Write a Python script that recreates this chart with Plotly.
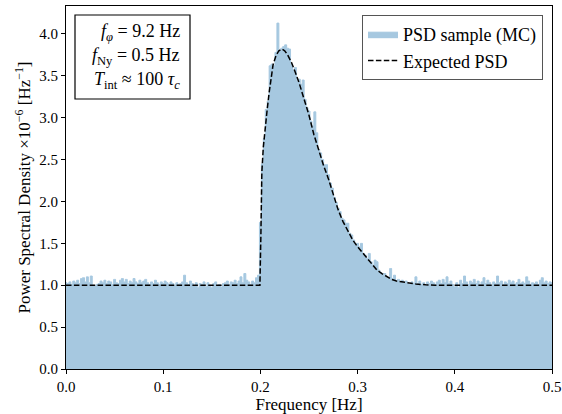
import plotly.graph_objects as go

# ---- data ----
df = 0.002
sample_psd = [
    1.03, 1.02, 1.04, 1.01, 1.05, 1.03, 1.06, 1.02, 1.08, 1.09,
    1.04, 1.10, 1.03, 1.11, 1.00, 0.99, 1.01, 1.02, 1.05, 1.03,
    1.06, 1.02, 1.05, 1.04, 1.01, 1.07, 1.03, 1.02, 1.06, 1.08,
    1.04, 1.07, 1.02, 1.05, 1.03, 1.08, 1.04, 1.02, 1.06, 1.03,
    1.05, 1.07, 1.03, 1.01, 1.04, 1.02, 1.06, 1.03, 1.01, 1.04,
    1.02, 1.05, 1.03, 1.01, 1.04, 1.02, 1.00, 1.03, 1.01, 1.02,
    1.04, 1.12, 1.03, 1.01, 1.05, 1.02, 0.99, 1.03, 0.97, 1.02,
    1.01, 1.04, 0.98, 1.03, 1.00, 0.97, 1.02, 1.04, 0.99, 1.01,
    0.98, 1.02, 1.03, 1.05, 1.01, 1.04, 1.03, 1.06, 1.02, 1.05,
    1.10, 1.03, 1.14, 1.06, 1.04, 1.01, 1.05, 1.03, 1.09, 1.12,
    1.75, 2.45, 2.75, 3.10, 3.20, 3.62, 3.64, 3.62, 3.78, 4.13,
    3.80, 3.83, 3.85, 3.87, 3.83, 3.82, 3.64, 3.57, 3.60, 3.44,
    3.46, 3.40, 3.45, 3.22, 3.12, 3.08, 2.96, 2.90, 3.07, 2.82,
    2.62, 2.58, 2.50, 2.44, 2.44, 2.32, 2.22, 2.16, 2.05, 1.99,
    1.92, 1.88, 1.80, 1.78, 1.74, 1.74, 1.62, 1.60, 1.54, 1.50,
    1.50, 1.46, 1.50, 1.38, 1.36, 1.32, 1.38, 1.28, 1.24, 1.30,
    1.28, 1.18, 1.15, 1.13, 1.14, 1.10, 1.08, 1.20, 1.08, 1.12,
    1.05, 1.07, 1.04, 1.06, 1.03, 1.05, 1.02, 1.01, 1.04, 1.02,
    1.10, 1.02, 1.05, 1.01, 1.03, 1.00, 1.04, 1.02, 1.05, 1.03,
    1.01, 1.04, 1.06, 1.02, 1.07, 1.03, 1.10, 1.02, 1.05, 1.01,
    0.98, 1.03, 0.97, 1.06, 1.02, 1.11, 1.04, 1.01, 1.05, 1.03,
    1.07, 1.02, 1.05, 1.01, 1.04, 1.09, 1.02, 1.06, 1.03, 1.00,
    1.04, 1.02, 1.11, 1.03, 1.05, 1.01, 1.04, 1.02, 1.06, 1.03,
    1.05, 1.01, 1.03, 1.07, 1.02, 1.04, 1.02, 1.10, 1.05, 1.01,
    1.03, 1.02, 1.04, 1.01, 1.06, 1.09, 1.03, 1.05, 1.02, 1.04,
    1.03,
]
sample_freq = [k * df for k in range(len(sample_psd))]

expected_freq = [
    0.0, 0.1995, 0.2005, 0.2015, 0.203, 0.205, 0.207, 0.209, 0.211, 0.213,
    0.216, 0.219, 0.222, 0.225, 0.228, 0.232, 0.236, 0.240, 0.245, 0.250,
    0.255, 0.260, 0.265, 0.270, 0.275, 0.280, 0.285, 0.290, 0.295, 0.300,
    0.305, 0.310, 0.315, 0.320, 0.325, 0.330, 0.335, 0.340, 0.350, 0.360,
    0.370, 0.380, 0.500,
]
expected_psd = [
    1.00, 1.00, 1.60, 2.35, 2.65, 2.90, 3.10, 3.30, 3.50, 3.63,
    3.74, 3.80, 3.82, 3.80, 3.75, 3.66, 3.54, 3.41, 3.22, 3.03,
    2.80, 2.60, 2.43, 2.27, 2.08, 1.90, 1.76, 1.64, 1.54, 1.46,
    1.39, 1.31, 1.24, 1.18, 1.14, 1.10, 1.07, 1.05, 1.03, 1.015,
    1.005, 1.00, 1.00,
]

x_ticks = [0.0, 0.1, 0.2, 0.3, 0.4, 0.5]
y_ticks = [0.0, 0.5, 1.0, 1.5, 2.0, 2.5, 3.0, 3.5, 4.0]

info_lines = [
    "<i>f</i><sub><i>φ</i></sub> = 9.2 Hz",
    "<i>f</i><sub>Ny</sub> = 0.5 Hz",
    "<i>T</i><sub>int</sub> ≈ 100 <i>τ</i><sub><i>c</i></sub>",
]

# ---- layout geometry (pixels) ----
W, H = 562, 414
L, R, T, B = 66, 10, 6, 45
pw, ph = W - L - R, H - T - B


def px(x):
    return (x - L) / pw


def py(y):
    return (H - B - y) / ph


FONT = "Liberation Serif"
fill_col = "#a6c8e0"

fig = go.Figure()
fig.add_trace(go.Scatter(
    x=sample_freq, y=sample_psd, mode="lines", line_shape="hvh",
    line=dict(color=fill_col, width=1), fill="tozeroy", fillcolor=fill_col,
    name="PSD sample (MC)",
))
fig.add_trace(go.Scatter(
    x=expected_freq, y=expected_psd, mode="lines",
    line=dict(color="black", width=1.5, dash="5.5px,2.4px"),
    name="Expected PSD",
))

fig.add_shape(type="rect", xref="paper", yref="paper",
              x0=px(75), x1=px(190), y0=py(99), y1=py(15),
              line=dict(color="black", width=1.2), fillcolor="white", layer="above")
for txt, yc in zip(info_lines, [33, 57, 81]):
    fig.add_annotation(text=txt, xref="paper", yref="paper", x=px(182), y=py(yc),
                       xanchor="right", yanchor="middle", showarrow=False,
                       font=dict(family=FONT, size=18, color="black"))

fig.update_layout(
    width=W, height=H,
    margin=dict(l=L, r=R, t=T, b=B, autoexpand=False),
    paper_bgcolor="white", plot_bgcolor="white",
    font=dict(family=FONT, size=15, color="black"),
    showlegend=True,
    legend=dict(x=px(543), y=py(15), xanchor="right", yanchor="top",
                bgcolor="white", bordercolor="#555", borderwidth=1,
                font=dict(family=FONT, size=18), tracegroupgap=0),
)
fig.update_xaxes(range=[0, 0.5], tickvals=x_ticks, tickformat=".1f",
                 ticks="outside", ticklen=4, tickcolor="black",
                 showline=True, linecolor="black", linewidth=1, mirror=True,
                 showgrid=False, zeroline=False, automargin=False,
                 title=dict(text="Frequency [Hz]", standoff=2, font=dict(size=17)),
                 tickfont=dict(size=15))
fig.update_yaxes(range=[0, 4.334], tickvals=y_ticks, tickformat=".1f",
                 ticks="outside", ticklen=4, tickcolor="black",
                 showline=True, linecolor="black", linewidth=1, mirror=True,
                 showgrid=False, zeroline=False, automargin=False,
                 title=dict(text="Power Spectral Density ×10<sup>−6</sup> [Hz<sup>−1</sup>]",
                            standoff=4, font=dict(size=17)),
                 tickfont=dict(size=15))

fig.write_html("out.html")
